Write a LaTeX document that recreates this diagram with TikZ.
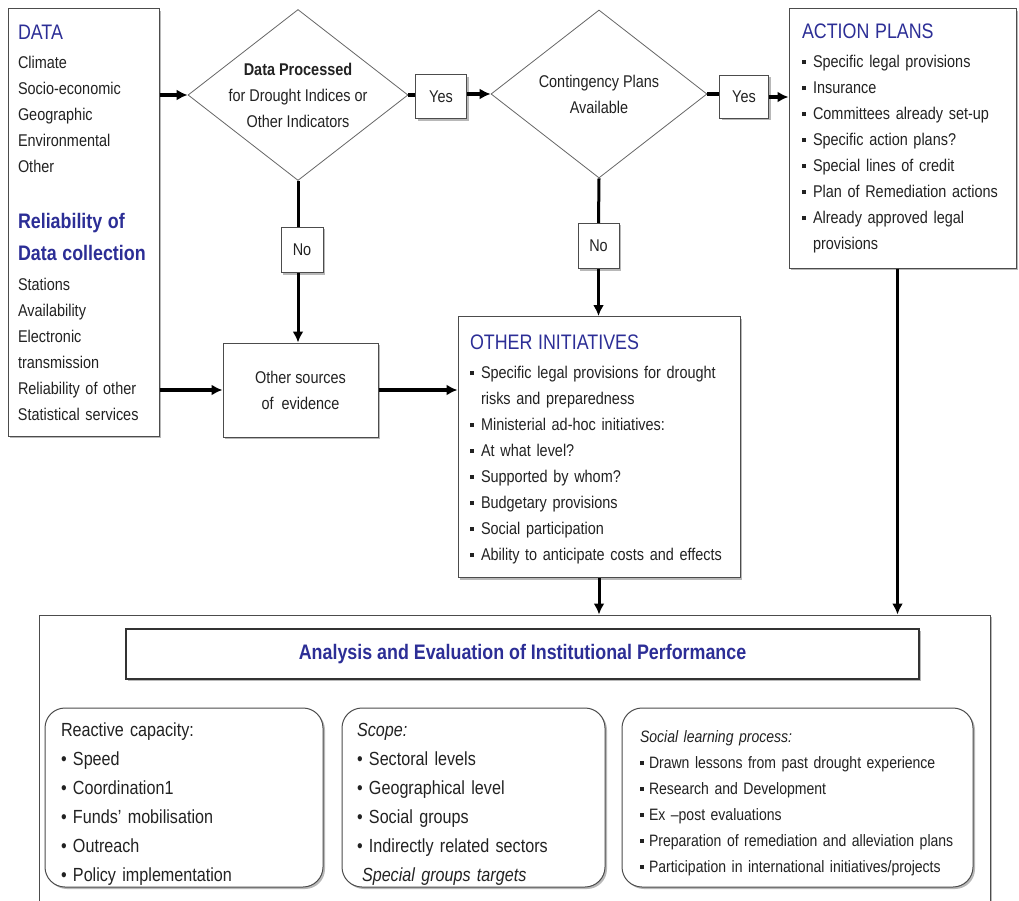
\documentclass[tikz,border=0pt]{standalone}
\usepackage{fontspec}
\setmainfont{Liberation Sans}[FakeStretch=0.85]
\usetikzlibrary{shapes.geometric,positioning,shadows,arrows.meta}

\definecolor{headblue}{RGB}{44,46,150}
\definecolor{ink}{RGB}{34,34,34}
\newcommand{\sqb}{\makebox[11pt][l]{\rule[3.5pt]{3.5pt}{4pt}}}
\newcommand{\sqs}{\makebox[9pt][l]{\rule[3.5pt]{3.5pt}{4pt}}}
\newcommand{\rdb}{\makebox[12pt][l]{\textbullet}}
\newcommand{\head}[1]{{\color{headblue}\fontsize{21}{26}\selectfont #1}}

\begin{document}
\begin{tikzpicture}[x=1pt,y=-1pt,
    every node/.style={
      text=ink,
      font=\fontsize{17}{26}\selectfont
    },
    block/.style={
      draw=black!70,
      line width=1pt,
      fill=white,
      inner sep=0pt,
      drop shadow={shadow xshift=2pt,shadow yshift=-2pt,fill=black!55}
    },
    decision/.style={
      diamond,
      draw=black!60,
      line width=0.8pt,
      fill=white,
      inner xsep=-60pt,
      inner ysep=-30pt,
      align=center
    },
    panel/.style={
      block,
      rounded corners=20pt,
      align=left,
      minimum height=179pt
    },
    link/.style={line width=3.5pt},
    flow/.style={line width=3.5pt,-{Latex[length=11pt,width=11pt]}}
    ]
    \useasboundingbox (0,0) rectangle (1019,901);
    \clip (0,0) rectangle (1019,901);
    \fill[white] (0,0) rectangle (1019,901);

    % evaluation frame at the bottom
    \node[block,minimum width=951pt,minimum height=294pt] (eval) at (514.5,762) {};
    \node[block,draw=black!80,line width=2pt,minimum width=793pt,minimum height=50pt,
      font=\bfseries\fontsize{21}{26}\selectfont,text=headblue] (title) at (522.5,654)
      {Analysis and Evaluation of Institutional Performance};

    \node[panel,minimum width=278pt,text width=246pt,font=\fontsize{19}{29}\selectfont] (react) at (184,797.5)
      {\rule{0pt}{27pt}Reactive capacity:\\ \rdb Speed\\ \rdb Coordination1\\ \rdb Funds' mobilisation\\
       \rdb Outreach\\ \rdb Policy implementation};
    \node[panel,minimum width=263pt,text width=233pt,font=\fontsize{19}{29}\selectfont] (scope) at (473.5,797.5)
      {\rule{0pt}{27pt}\textit{Scope:}\\ \rdb Sectoral levels\\ \rdb Geographical level\\ \rdb Social groups\\
       \rdb Indirectly related sectors\\ \hspace*{5pt}\textit{Special groups targets}};
    \node[panel,minimum width=351pt,text width=315pt,font=\fontsize{16.5}{26}\selectfont] (learn) at (797.5,797.5)
      {\rule{0pt}{23pt}\textit{Social learning process:}\\ \sqs Drawn lessons from past drought experience\\
       \sqs Research and Development\\ \sqs Ex --post evaluations\\
       \sqs Preparation of remediation and alleviation plans\\
       \sqs Participation in international initiatives/projects};

    % upper row
    \node[block,minimum width=151pt,minimum height=427pt,text width=131pt,align=left] (data) at (83.5,222.5)
      {\head{DATA}\\[3pt]
       Climate\\ Socio-economic\\ Geographic\\ Environmental\\ Other\\[30pt]
       \head{\bfseries Reliability of}\\[6pt]
       \head{\bfseries Data collection}\\[4pt]
       Stations\\ Availability\\ Electronic\\ transmission\\ Reliability of other\\ Statistical services};

    \node[decision,minimum width=220pt,minimum height=171pt] (proc) at (298,95)
      {\textbf{Data Processed}\\ for Drought Indices or\\ Other Indicators};
    \node[decision,minimum width=216pt,minimum height=168pt] (cont) at (599,94)
      {Contingency Plans\\ Available};

    \node[block,minimum width=51pt,minimum height=44pt] (yes1) at (441,97) {Yes};
    \node[block,minimum width=49pt,minimum height=43pt] (yes2) at (744,97) {Yes};
    \node[block,minimum width=42pt,minimum height=45pt] (no1) at (302,250) {No};
    \node[block,minimum width=41pt,minimum height=45pt] (no2) at (598.5,246) {No};

    \node[block,minimum width=227pt,minimum height=259pt,text width=201pt,align=left] (action) at (902.5,138.5)
      {\head{ACTION PLANS}\\[3pt]
       \sqb Specific legal provisions\\ \sqb Insurance\\ \sqb Committees already set-up\\
       \sqb Specific action plans?\\ \sqb Special lines of credit\\ \sqb Plan of Remediation actions\\
       \sqb Already approved legal\\ \hspace*{11pt}provisions};

    \node[block,minimum width=155pt,minimum height=94pt,align=center] (sources) at (300.5,390)
      {Other sources\\ of~ evidence};

    \node[block,minimum width=282pt,minimum height=261pt,text width=258pt,align=left] (other) at (599,447)
      {\rule{0pt}{20pt}\head{OTHER INITIATIVES}\\[3pt]
       \sqb Specific legal provisions for drought\\ \hspace*{11pt}risks and preparedness\\
       \sqb Ministerial ad-hoc initiatives:\\ \sqb At what level?\\ \sqb Supported by whom?\\
       \sqb Budgetary provisions\\ \sqb Social participation\\ \sqb Ability to anticipate costs and effects};

    % connectors
    \draw[flow] (data.east |- proc.west) -- (proc.west);
    \draw[link] (proc.east) -- (proc.east -| yes1.west);
    \draw[flow] (yes1.east |- cont.west) -- (cont.west);
    \draw[link] (cont.east) -- (cont.east -| yes2.west);
    \draw[flow] (yes2.east) -- (action.west |- yes2.east);
    \draw[link,line width=3pt] (proc.south) -- (proc.south |- no1.north);
    \draw[flow,line width=3pt] (proc.south |- no1.south) -- (proc.south |- sources.north);
    \draw[link,line width=3pt] (cont.south) -- (no2.north);
    \draw[flow,line width=3pt] (no2.south) -- (no2.south |- other.north);
    \draw[flow] (data.east |- sources.west) -- (sources.west);
    \draw[flow] (sources.east) -- (other.west |- sources.east);
    \draw[flow,line width=3pt] (other.south) -- (other.south |- eval.north);
    \draw[flow,line width=3pt] ([xshift=-5pt]action.south) -- ([xshift=-5pt]action.south |- eval.north);
\end{tikzpicture}
\end{document}
